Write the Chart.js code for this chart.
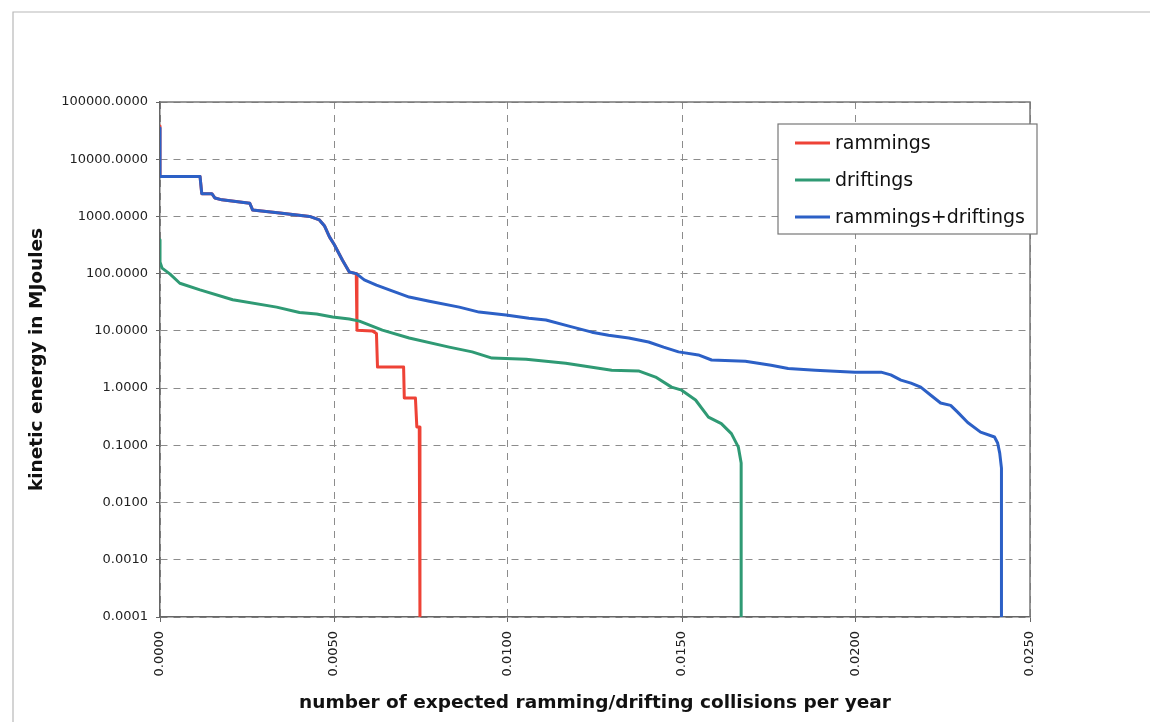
<!DOCTYPE html>
<html>
<head>
<meta charset="utf-8">
<script src="https://cdn.jsdelivr.net/npm/chart.js@4.4.1/dist/chart.umd.min.js"></script>
<style>
  html, body { margin: 0; padding: 0; background: #fff; }
  #wrap { width: 1155px; height: 722px; }
</style>
</head>
<body>
<div id="wrap"><canvas id="chart" width="1155" height="722"></canvas></div>
<script>
// values (x = collisions per year, y = MJ)
const seriesNames = ['rammings', 'driftings', 'rammings+driftings'];
const seriesColors = ['#ee4236', '#2f9a74', '#2c60c6'];

const xTicks = [0, 0.005, 0.01, 0.015, 0.02, 0.025];
const yTicks = [0.0001, 0.001, 0.01, 0.1, 1, 10, 100, 1000, 10000, 100000];

const bothX = [0, 0, 0.00115, 0.0012, 0.00149, 0.00158, 0.00178, 0.00258, 0.00266, 0.00344,
  0.0043, 0.00458, 0.00473, 0.00487, 0.00501, 0.00524, 0.00544, 0.00564, 0.00587, 0.00622,
  0.00659, 0.00716, 0.00774, 0.0086, 0.00917, 0.00994, 0.0106, 0.01109, 0.01175, 0.01241,
  0.01289, 0.01347, 0.01404, 0.01447, 0.0149, 0.01547, 0.01585, 0.01682, 0.01756, 0.01805,
  0.01883, 0.01997, 0.02072, 0.021, 0.02129, 0.02158, 0.02186, 0.02215, 0.02243, 0.02272,
  0.02292, 0.02321, 0.02358, 0.02398, 0.02407, 0.02413, 0.02418, 0.02418];
const bothY = [35000, 5000, 5000, 2500, 2500, 2100, 1950, 1700, 1300, 1150,
  1000, 870, 680, 440, 320, 173, 107, 100, 78, 63,
  52, 39, 33, 26, 21.3, 19, 16.7, 15.5, 12.1, 9.5,
  8.4, 7.5, 6.4, 5.2, 4.3, 3.8, 3.1, 2.95, 2.5, 2.2,
  2.06, 1.9, 1.9, 1.7, 1.38, 1.22, 1.04, 0.75, 0.55, 0.5,
  0.38, 0.25, 0.17, 0.14, 0.11, 0.073, 0.04, 0.0001];

const driftX = [0, 0, 0.00006, 0.00029, 0.00057, 0.00115, 0.00209, 0.00335, 0.00401, 0.0045,
  0.00496, 0.00544, 0.00573, 0.00639, 0.00716, 0.00831, 0.00897, 0.00954, 0.01052, 0.01166,
  0.01298, 0.01375, 0.01424, 0.0147, 0.01499, 0.01539, 0.01576, 0.01613, 0.01642, 0.01662,
  0.0167, 0.0167];
const driftY = [390, 160, 125, 98, 68, 52, 35, 26, 21, 19.7,
  17.5, 16.1, 14.8, 10.3, 7.5, 5.2, 4.3, 3.35, 3.2, 2.73,
  2.06, 2.0, 1.56, 1.04, 0.92, 0.62, 0.31, 0.24, 0.16, 0.093,
  0.049, 0.0001];

const ramX = [0, 0, 0.00115, 0.0012, 0.00149, 0.00158, 0.00178, 0.00258, 0.00266, 0.00344,
  0.0043, 0.00458, 0.00473, 0.00487, 0.00501, 0.00524, 0.00544, 0.00564, 0.00566, 0.0061,
  0.00622, 0.00625, 0.007, 0.00702, 0.00734, 0.00738, 0.00745, 0.00747];
const ramY = [38000, 5000, 5000, 2500, 2500, 2100, 1950, 1700, 1300, 1150,
  1000, 870, 680, 440, 320, 173, 107, 100, 10.3, 10,
  9, 2.33, 2.33, 0.67, 0.67, 0.21, 0.21, 0.0001];

const toPoints = (xs, ys) => xs.map((x, i) => ({ x: x, y: ys[i] }));

const fontFamily = "'DejaVu Sans', 'Liberation Sans', Arial, sans-serif";

// plot frame (top + right edges) and the faint page border
const framePlugin = {
  id: 'frame',
  beforeDraw(chart) {
    const ctx = chart.ctx;
    ctx.save();
    ctx.strokeStyle = '#b8b8b8';
    ctx.lineWidth = 1.2;
    ctx.beginPath();
    ctx.moveTo(13, 722);
    ctx.lineTo(13, 12);
    ctx.lineTo(1150, 12);
    ctx.stroke();
    ctx.restore();
  },
  afterDatasetsDraw(chart) {
    const { ctx, chartArea: a } = chart;
    ctx.save();
    ctx.strokeStyle = '#777';
    ctx.lineWidth = 1.5;
    ctx.beginPath();
    ctx.moveTo(a.left, a.top);
    ctx.lineTo(a.right, a.top);
    ctx.lineTo(a.right, a.bottom);
    ctx.stroke();
    ctx.restore();
  }
};

// legend box inside the plot, top right
const legendBox = {
  id: 'legendBox',
  afterDraw(chart) {
    const ctx = chart.ctx;
    const bx = 778, by = 124, bw = 259, bh = 110;
    ctx.save();
    ctx.fillStyle = '#fff';
    ctx.fillRect(bx, by, bw, bh);
    ctx.strokeStyle = '#777';
    ctx.lineWidth = 1.2;
    ctx.strokeRect(bx, by, bw, bh);
    ctx.font = '19px ' + fontFamily;
    ctx.textBaseline = 'middle';
    ctx.fillStyle = '#111';
    seriesNames.forEach((name, i) => {
      const y = by + 19 + i * 37;
      ctx.strokeStyle = seriesColors[i];
      ctx.lineWidth = 3;
      ctx.beginPath();
      ctx.moveTo(bx + 17, y);
      ctx.lineTo(bx + 52, y);
      ctx.stroke();
      ctx.fillText(name, bx + 57, y + 1);
    });
    ctx.restore();
  }
};

const ctx = document.getElementById('chart').getContext('2d');
new Chart(ctx, {
  type: 'line',
  data: {
    datasets: [
      { label: seriesNames[0], data: toPoints(ramX, ramY), borderColor: seriesColors[0], order: 3 },
      { label: seriesNames[1], data: toPoints(driftX, driftY), borderColor: seriesColors[1], order: 2 },
      { label: seriesNames[2], data: toPoints(bothX, bothY), borderColor: seriesColors[2], order: 1 }
    ]
  },
  options: {
    responsive: false,
    animation: false,
    parsing: false,
    layout: { padding: { left: 0, top: 102, right: 125, bottom: 0 } },
    elements: {
      line: { borderWidth: 3, tension: 0, fill: false, borderJoinStyle: 'round' },
      point: { radius: 0 }
    },
    plugins: {
      legend: { display: false },
      tooltip: { enabled: false }
    },
    scales: {
      x: {
        type: 'linear',
        min: 0,
        max: 0.025,
        afterBuildTicks: s => { s.ticks = xTicks.map(v => ({ value: v })); },
        afterFit: s => { s.height = 105; },
        ticks: {
          callback: v => Number(v).toFixed(4),
          minRotation: 90,
          maxRotation: 90,
          autoSkip: false,
          padding: 9,
          color: '#222',
          font: { family: fontFamily, size: 13 }
        },
        grid: { color: '#8c8c8c', lineWidth: 1, tickLength: 5, tickColor: '#666' },
        border: { display: true, color: '#666', width: 1.5, dash: [7, 6] },
        title: {
          display: true,
          text: 'number of expected ramming/drifting collisions per year',
          color: '#111',
          font: { family: fontFamily, size: 18.5, weight: 'bold' },
          padding: { top: 0, bottom: 8 }
        }
      },
      y: {
        type: 'logarithmic',
        min: 0.0001,
        max: 100000,
        afterBuildTicks: s => { s.ticks = yTicks.map(v => ({ value: v })); },
        afterFit: s => { s.width = 160; },
        ticks: {
          callback: v => Number(v).toFixed(4),
          autoSkip: false,
          padding: 8,
          color: '#222',
          font: { family: fontFamily, size: 13 }
        },
        grid: { color: '#8c8c8c', lineWidth: 1, tickLength: 4, tickColor: '#666' },
        border: { display: true, color: '#666', width: 1.5, dash: [7, 6] },
        title: {
          display: true,
          text: 'kinetic energy in MJoules',
          color: '#111',
          font: { family: fontFamily, size: 18.5, weight: 'bold' },
          padding: { top: 26, bottom: 0 }
        }
      }
    }
  },
  plugins: [framePlugin, legendBox]
});
</script>
</body>
</html>
